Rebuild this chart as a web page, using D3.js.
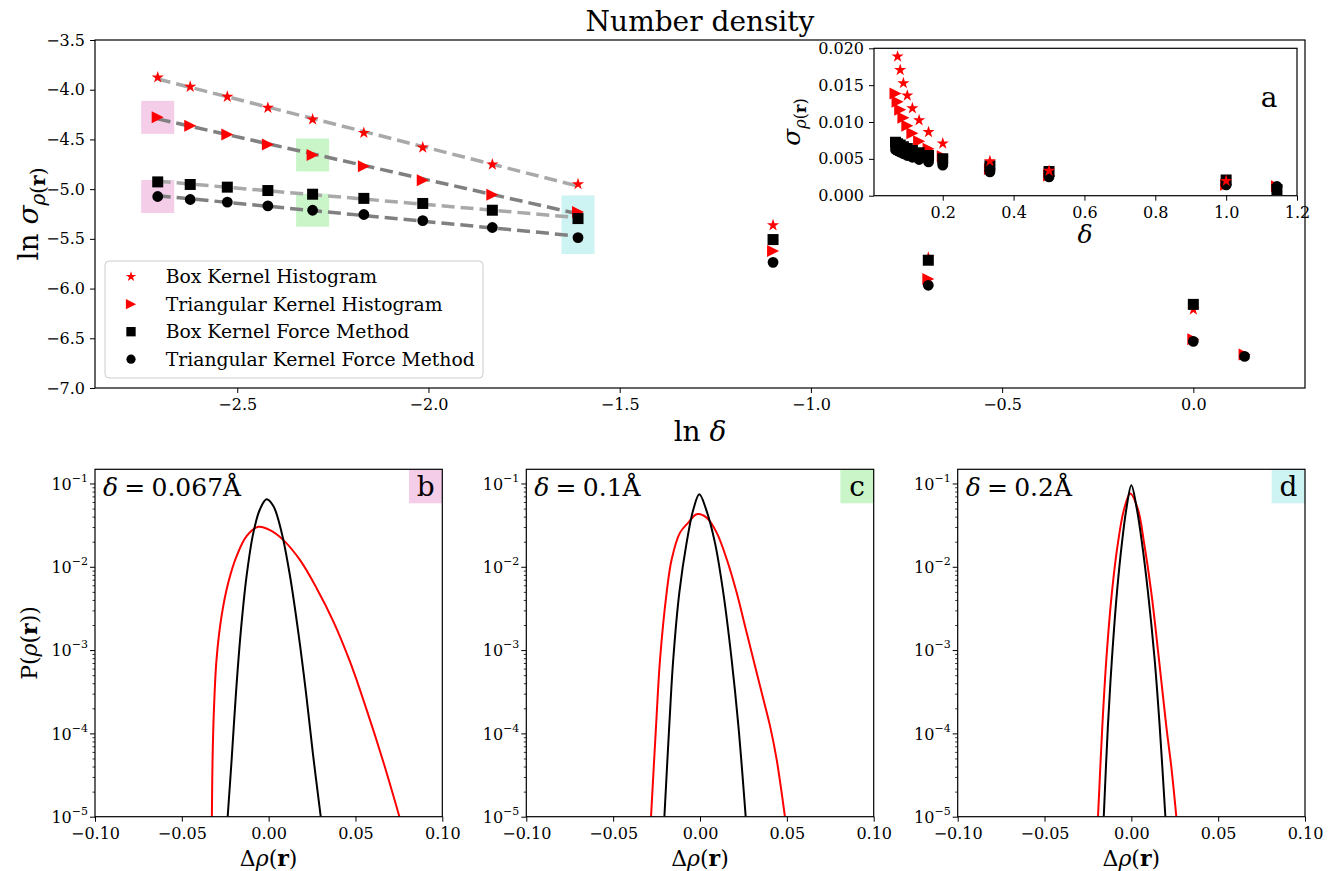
<!DOCTYPE html>
<html><head><meta charset="utf-8">
<script src="https://cdnjs.cloudflare.com/ajax/libs/d3/7.8.5/d3.min.js"></script>
<style>body{margin:0;background:#fff} svg{font-family:"DejaVu Serif",serif}</style>
</head><body><svg id="chart" width="1336" height="871"></svg>
<script>
// ---------------- DATA ----------------
const lnDelta  = [-2.708,-2.623,-2.526,-2.420,-2.303,-2.169,-2.015,-1.833,-1.609,-1.099,-0.693,0.000,0.134];
const boxHist  = [-3.876,-3.970,-4.071,-4.182,-4.299,-4.434,-4.581,-4.752,-4.950,-5.363,-5.690,-6.210,null];
const triHist  = [-4.278,-4.363,-4.450,-4.550,-4.656,-4.769,-4.910,-5.056,-5.229,-5.622,-5.904,-6.510,-6.662];
const boxForce = [-4.927,-4.953,-4.980,-5.014,-5.051,-5.093,-5.144,-5.212,-5.296,-5.507,-5.715,-6.159,-7.100];
const triForce = [-5.074,-5.104,-5.131,-5.169,-5.212,-5.255,-5.316,-5.386,-5.487,-5.736,-5.967,-6.531,-6.682];
const seriesNames = ["Box Kernel Histogram","Triangular Kernel Histogram","Box Kernel Force Method","Triangular Kernel Force Method"];
const fitCount = 9;

const mainXTicks = [-2.5,-2.0,-1.5,-1.0,-0.5,0.0];
const mainYTicks = [-7.0,-6.5,-6.0,-5.5,-5.0,-4.5,-4.0,-3.5];
const insetXTicks = [0.2,0.4,0.6,0.8,1.0,1.2];
const insetYTicks = [0.000,0.005,0.010,0.015,0.020];

const panelLabels = ["b","c","d"];
const panelDeltas = ["0.067Å","0.1Å","0.2Å"];
const panelXTicks = [-0.10,-0.05,0.00,0.05,0.10];
const panelYTicks = [1e-5,1e-4,1e-3,1e-2,1e-1];

const bRedX   = [-0.0327,-0.0323,-0.0315,-0.0300,-0.0271,-0.0232,-0.0184,-0.0127,-0.0060,0.0008,0.0085,0.0181,0.0277,0.0373,0.0469,0.0565,0.0661,0.0753];
const bRedP   = [1.0e-5,4.9e-5,1.95e-4,7.8e-4,2.57e-3,6.5e-3,0.0135,0.0234,0.0302,0.0275,0.0209,0.0120,5.5e-3,2.2e-3,7.2e-4,1.9e-4,4.5e-5,1.0e-5];
const bBlackX = [-0.0236,-0.0213,-0.0188,-0.0161,-0.0127,-0.0088,-0.0050,-0.0012,0.0027,0.0075,0.0123,0.0171,0.0215,0.0254,0.0300];
const bBlackP = [1.0e-5,4.9e-5,3.09e-4,1.62e-3,7.76e-3,0.0257,0.0490,0.0646,0.0537,0.0257,7.76e-3,1.62e-3,3.09e-4,5.9e-5,1.0e-5];
const cRedX   = [-0.0282,-0.0253,-0.0230,-0.0192,-0.0163,-0.0115,-0.0067,-0.0019,0.0038,0.0096,0.0154,0.0211,0.0259,0.0307,0.0355,0.0403,0.0441,0.0489];
const cRedP   = [1.0e-5,1.23e-4,7.76e-4,4.9e-3,0.0123,0.0257,0.0339,0.0427,0.0389,0.0257,0.0123,4.9e-3,1.95e-3,7.76e-4,3.09e-4,1.23e-4,4.9e-5,1.0e-5];
const cBlackX = [-0.0205,-0.0177,-0.0154,-0.0119,-0.0077,-0.0038,-0.0004,0.0035,0.0086,0.0134,0.0182,0.0221,0.0263];
const cBlackP = [1.0e-5,1.23e-4,7.76e-4,4.9e-3,0.0195,0.0490,0.0741,0.0490,0.0195,4.9e-3,7.76e-4,1.23e-4,1.0e-5];
const dRedX   = [-0.0192,-0.0167,-0.0144,-0.0112,-0.0077,-0.0042,-0.0006,0.0038,0.0073,0.0115,0.0159,0.0201,0.0230,0.0259];
const dRedP   = [1.0e-5,1.23e-4,7.76e-4,4.9e-3,0.0195,0.0490,0.0759,0.0490,0.0195,4.9e-3,7.76e-4,1.23e-4,3.98e-5,1.0e-5];
const dBlackX = [-0.0159,-0.0135,-0.0112,-0.0083,-0.0054,-0.0029,0.0000,0.0032,0.0061,0.0096,0.0134,0.0163,0.0196];
const dBlackP = [1.0e-5,1.23e-4,7.76e-4,4.9e-3,0.0195,0.0490,0.0955,0.0490,0.0195,4.9e-3,7.76e-4,1.23e-4,1.0e-5];

// ---------------- STYLE / LAYOUT ----------------
const FONT = "DejaVu Serif";
const TICKFS = 16;
const svg = d3.select("#chart");
const M = {l:95, r:1305, t:40, b:388};
const PINK="#f4cde8", GREEN="#c9f5c9", CYAN="#cdf3f3";

const triPath = (r)=>`M${r},0L${-r},${r}L${-r},${-r}Z`;
const seriesStyle = [
  {data:boxHist,  color:"red",  sym:"star",   line:"#a9a9a9"},
  {data:triHist,  color:"red",  sym:"tri",    line:"#808080"},
  {data:boxForce, color:"#000", sym:"square", line:"#a9a9a9"},
  {data:triForce, color:"#000", sym:"circle", line:"#808080"}
];
function symPath(sym, scale){
  scale = scale||1;
  if(sym==="tri") return triPath(6*scale);
  if(sym==="star") return d3.symbol(d3.symbolStar, 46*scale*scale)();
  if(sym==="square") return d3.symbol(d3.symbolSquare, 121*scale*scale)();
  return d3.symbol(d3.symbolCircle, 92*scale*scale)();
}
function styleAxis(g, size){
  g.attr("font-family",FONT).attr("font-size",size||TICKFS);
  g.select(".domain").remove();
  g.selectAll(".tick line").attr("stroke","#000").attr("stroke-width",1);
  g.selectAll(".tick text").attr("fill","#000");
}
const fmt1 = d3.format(".1f");

// ---------------- MAIN AXES ----------------
const x = d3.scaleLinear().domain([-2.872,0.292]).range([M.l,M.r]);
const y = d3.scaleLinear().domain([-7,-3.5]).range([M.b,M.t]);

svg.append("defs").append("clipPath").attr("id","mainclip")
  .append("rect").attr("x",M.l).attr("y",M.t).attr("width",M.r-M.l).attr("height",M.b-M.t);

// highlight boxes
const highlights = [
  {i:0, series:[triHist], color:PINK},
  {i:0, series:[triForce], color:PINK},
  {i:4, series:[triHist], color:GREEN},
  {i:4, series:[triForce], color:GREEN},
  {i:8, series:[triHist,triForce], color:CYAN}
];
const hl = svg.append("g");
highlights.forEach(h=>{
  const vals = h.series.map(s=>s[h.i]);
  const cx = x(lnDelta[h.i]);
  const top = y(d3.max(vals)) - 16.5, bot = y(d3.min(vals)) + 16.5;
  hl.append("rect").attr("x",cx-16.5).attr("y",top).attr("width",33).attr("height",bot-top).attr("fill",h.color);
});

// fit lines
const mainG = svg.append("g").attr("clip-path","url(#mainclip)");
seriesStyle.forEach(s=>{
  const xs = lnDelta.slice(0,fitCount), ys = s.data.slice(0,fitCount);
  const mx = d3.mean(xs), my = d3.mean(ys);
  const slope = d3.sum(xs.map((v,k)=>(v-mx)*(ys[k]-my))) / d3.sum(xs.map(v=>(v-mx)*(v-mx)));
  const x0 = xs[0], x1 = xs[fitCount-1];
  mainG.append("line")
    .attr("x1",x(x0)).attr("y1",y(my+slope*(x0-mx)))
    .attr("x2",x(x1)).attr("y2",y(my+slope*(x1-mx)))
    .attr("stroke",s.line).attr("stroke-width",3.5).attr("stroke-dasharray","13,6");
});
// markers
seriesStyle.forEach(s=>{
  mainG.append("g").selectAll("path").data(lnDelta.map((d,k)=>[d,s.data[k]]).filter(d=>d[1]!=null))
    .join("path").attr("d",symPath(s.sym)).attr("fill",s.color)
    .attr("transform",d=>`translate(${x(d[0])},${y(d[1])})`);
});

// spines
svg.append("rect").attr("x",M.l).attr("y",M.t).attr("width",M.r-M.l).attr("height",M.b-M.t)
  .attr("fill","none").attr("stroke","#000").attr("stroke-width",1.2);
const gx = svg.append("g").attr("transform",`translate(0,${M.b})`)
  .call(d3.axisBottom(x).tickValues(mainXTicks).tickFormat(fmt1).tickSize(5).tickPadding(6));
styleAxis(gx);
const gy = svg.append("g").attr("transform",`translate(${M.l},0)`)
  .call(d3.axisLeft(y).tickValues(mainYTicks).tickFormat(fmt1).tickSize(5).tickPadding(5));
styleAxis(gy);

// labels
svg.append("text").attr("x",700).attr("y",31).attr("text-anchor","middle")
  .attr("font-family",FONT).attr("font-size",28).text("Number density");
const xl = svg.append("text").attr("x",700).attr("y",441).attr("text-anchor","middle")
  .attr("font-family",FONT).attr("font-size",28);
xl.append("tspan").text("ln ");
xl.append("tspan").attr("font-style","italic").text("δ");
const yl = svg.append("text").attr("transform","translate(38,214) rotate(-90)").attr("text-anchor","middle")
  .attr("font-family",FONT).attr("font-size",28);
yl.append("tspan").text("ln ");
yl.append("tspan").attr("font-style","italic").text("σ");
yl.append("tspan").attr("font-style","italic").attr("font-size",20).attr("dy",7).text("ρ");
yl.append("tspan").attr("font-size",20).text("(");
yl.append("tspan").attr("font-size",20).attr("font-weight","bold").text("r");
yl.append("tspan").attr("font-size",20).text(")");

// legend
const lg = svg.append("g");
lg.append("rect").attr("x",105).attr("y",261).attr("width",378).attr("height",117).attr("rx",4)
  .attr("fill","#fff").attr("fill-opacity",0.8).attr("stroke","#cccccc");
seriesStyle.forEach((s,k)=>{
  const yy = 276.7 + k*27.5;
  lg.append("path").attr("d",symPath(s.sym,0.85)).attr("fill",s.color).attr("transform",`translate(131,${yy})`);
  lg.append("text").attr("x",165.7).attr("y",yy).attr("dy","0.35em").attr("font-family",FONT)
    .attr("font-size",18.8).text(seriesNames[k]);
});

// ---------------- INSET ----------------
const I = {l:874, r:1297, t:48.3, b:195.7};
const ix = d3.scaleLinear().domain([0.006,1.2]).range([I.l,I.r]);
const iy = d3.scaleLinear().domain([0,0.02]).range([I.b,I.t]);
svg.append("rect").attr("x",I.l).attr("y",I.t).attr("width",I.r-I.l).attr("height",I.b-I.t).attr("fill","#fff");
svg.append("defs").append("clipPath").attr("id","insetclip")
  .append("rect").attr("x",I.l).attr("y",I.t).attr("width",I.r-I.l).attr("height",I.b-I.t);
const insG = svg.append("g").attr("clip-path","url(#insetclip)");
[1,3,2,0].forEach(k=>{
  const s = seriesStyle[k];
  insG.append("g").selectAll("path").data(lnDelta.map((d,j)=>[d,s.data[j]]).filter(d=>d[1]!=null))
    .join("path").attr("d",symPath(s.sym)).attr("fill",s.color)
    .attr("transform",d=>`translate(${ix(Math.exp(d[0]))},${iy(Math.exp(d[1]))})`);
});
svg.append("rect").attr("x",I.l).attr("y",I.t).attr("width",I.r-I.l).attr("height",I.b-I.t)
  .attr("fill","none").attr("stroke","#000").attr("stroke-width",1.2);
const igx = svg.append("g").attr("transform",`translate(0,${I.b})`)
  .call(d3.axisBottom(ix).tickValues(insetXTicks).tickFormat(fmt1).tickSize(5).tickPadding(6));
styleAxis(igx);
const igy = svg.append("g").attr("transform",`translate(${I.l},0)`)
  .call(d3.axisLeft(iy).tickValues(insetYTicks).tickFormat(d3.format(".3f")).tickSize(5).tickPadding(5));
styleAxis(igy);
svg.append("text").attr("x",1085).attr("y",243).attr("text-anchor","middle").attr("font-family",FONT)
  .attr("font-size",25).attr("font-style","italic").text("δ");
const iyl = svg.append("text").attr("transform","translate(800,122) rotate(-90)").attr("text-anchor","middle")
  .attr("font-family",FONT).attr("font-size",25);
iyl.append("tspan").attr("font-style","italic").text("σ");
iyl.append("tspan").attr("font-style","italic").attr("font-size",16).attr("dy",6).text("ρ");
iyl.append("tspan").attr("font-size",16).text("(");
iyl.append("tspan").attr("font-size",16).attr("font-weight","bold").text("r");
iyl.append("tspan").attr("font-size",16).text(")");
svg.append("text").attr("x",1269).attr("y",107).attr("text-anchor","middle").attr("font-family",FONT)
  .attr("font-size",28).text("a");

// ---------------- BOTTOM PANELS ----------------
const panels = [
  {l:95,    r:442.3, red:[bRedX,bRedP], black:[bBlackX,bBlackP], box:PINK},
  {l:526.3, r:873.7, red:[cRedX,cRedP], black:[cBlackX,cBlackP], box:GREEN},
  {l:957.7, r:1305,  red:[dRedX,dRedP], black:[dBlackX,dBlackP], box:CYAN}
];
const PT = 469.3, PB = 816.7;
const py = d3.scaleLog().domain([1e-5,0.148]).range([PB,PT]);
const minorTicks = [];
[1e-5,1e-4,1e-3,1e-2,1e-1].forEach(dec=>{for(let m=2;m<=9;m++){const v=dec*m; if(v<=0.148) minorTicks.push(v);}});
const supMap = {"-1":"−1","-2":"−2","-3":"−3","-4":"−4","-5":"−5"};

panels.forEach((p,k)=>{
  const px = d3.scaleLinear().domain([-0.1,0.1]).range([p.l,p.r]);
  const id = "pclip"+k;
  svg.append("defs").append("clipPath").attr("id",id)
    .append("rect").attr("x",p.l).attr("y",PT).attr("width",p.r-p.l).attr("height",PB-PT);
  const g = svg.append("g").attr("clip-path",`url(#${id})`);
  const line = d3.line().x(d=>px(d[0])).y(d=>py(d[1])).curve(d3.curveCatmullRom.alpha(0.5));
  g.append("path").attr("d",line(p.red[0].map((v,j)=>[v,p.red[1][j]])))
    .attr("fill","none").attr("stroke","red").attr("stroke-width",2);
  g.append("path").attr("d",line(p.black[0].map((v,j)=>[v,p.black[1][j]])))
    .attr("fill","none").attr("stroke","#000").attr("stroke-width",2);
  // label box
  svg.append("rect").attr("x",p.r-33.3).attr("y",PT).attr("width",33.3).attr("height",34).attr("fill",p.box);
  svg.append("text").attr("x",p.r-16.6).attr("y",495.5).attr("text-anchor","middle").attr("font-family",FONT)
    .attr("font-size",28).text(panelLabels[k]);
  // delta text
  const dt = svg.append("text").attr("x",p.l+8).attr("y",495.5).attr("font-family",FONT).attr("font-size",25);
  dt.append("tspan").attr("font-style","italic").text("δ");
  dt.append("tspan").text("\u2005=\u2005" + panelDeltas[k]);
  // spines
  svg.append("rect").attr("x",p.l).attr("y",PT).attr("width",p.r-p.l).attr("height",PB-PT)
    .attr("fill","none").attr("stroke","#000").attr("stroke-width",1.2);
  const pgx = svg.append("g").attr("transform",`translate(0,${PB})`)
    .call(d3.axisBottom(px).tickValues(panelXTicks).tickFormat(d3.format(".2f")).tickSize(5).tickPadding(6));
  styleAxis(pgx);
  const pgy = svg.append("g").attr("transform",`translate(${p.l},0)`)
    .call(d3.axisLeft(py).tickValues(panelYTicks).tickFormat(()=>"").tickSize(5));
  styleAxis(pgy);
  const pgm = svg.append("g").attr("transform",`translate(${p.l},0)`)
    .call(d3.axisLeft(py).tickValues(minorTicks).tickFormat(()=>"").tickSize(2.5));
  styleAxis(pgm);
  pgm.selectAll(".tick line").attr("stroke-width",0.8);
  panelYTicks.forEach(v=>{
    const e = Math.round(Math.log10(v));
    const t = svg.append("text").attr("x",p.l-7).attr("y",py(v)).attr("dy","0.4em").attr("text-anchor","end")
      .attr("font-family",FONT).attr("font-size",16);
    t.append("tspan").text("10");
    t.append("tspan").attr("font-size",11).attr("dy","-0.75em").text(supMap[String(e)]);
  });
  // x label
  const xlab = svg.append("text").attr("x",(p.l+p.r)/2).attr("y",866).attr("text-anchor","middle")
    .attr("font-family",FONT).attr("font-size",22);
  xlab.append("tspan").text("Δ");
  xlab.append("tspan").attr("font-style","italic").text("ρ");
  xlab.append("tspan").text("(");
  xlab.append("tspan").attr("font-weight","bold").text("r");
  xlab.append("tspan").text(")");
});
// panel y label
const pyl = svg.append("text").attr("transform","translate(37,643) rotate(-90)").attr("text-anchor","middle")
  .attr("font-family",FONT).attr("font-size",22);
pyl.append("tspan").text("P(");
pyl.append("tspan").attr("font-style","italic").text("ρ");
pyl.append("tspan").text("(");
pyl.append("tspan").attr("font-weight","bold").text("r");
pyl.append("tspan").text("))");
</script></body></html>
